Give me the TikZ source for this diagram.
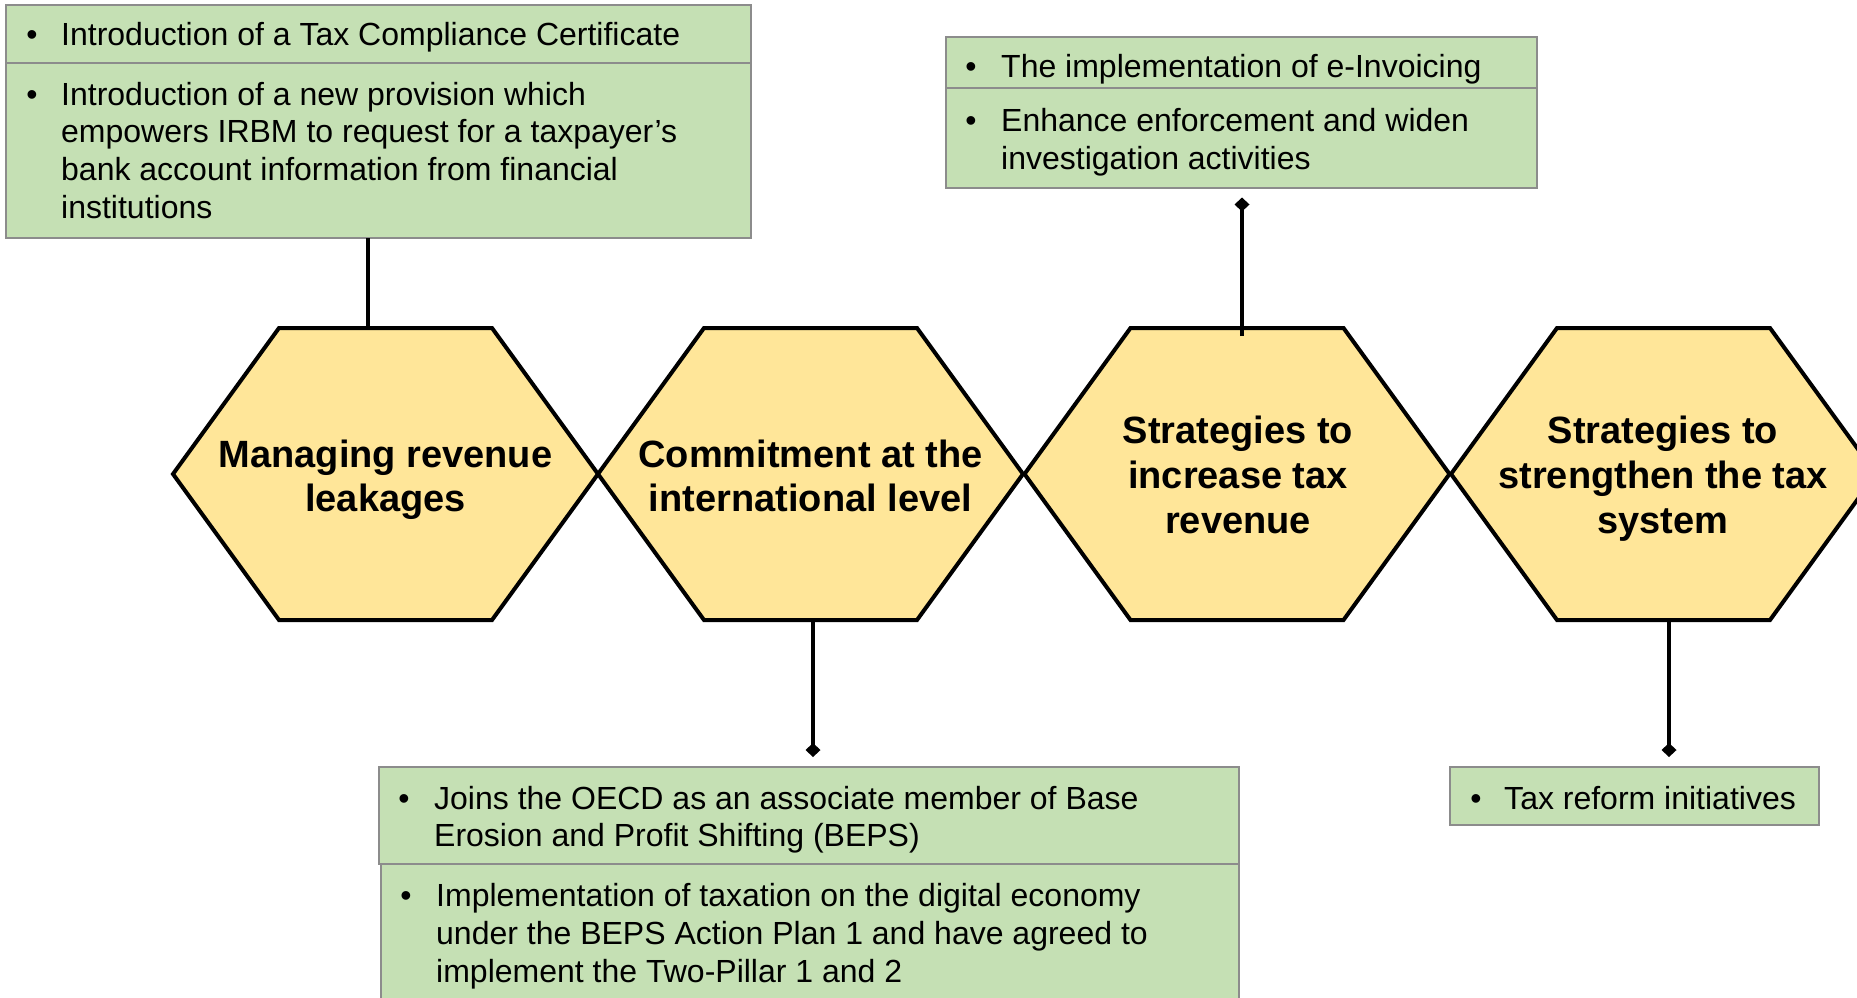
\documentclass[tikz,border=0pt]{standalone}
\usepackage{fontspec}
\setmainfont{Liberation Sans}
\usetikzlibrary{arrows.meta}
\definecolor{boxgreen}{HTML}{C5E0B4}
\definecolor{boxedge}{HTML}{8C8C8C}
\definecolor{hexfill}{HTML}{FFE699}
\begin{document}
\begin{tikzpicture}[x=1pt,y=-1pt,
  hexshape/.style={fill=hexfill,draw=black,line width=4pt,line join=miter},
  greenbox/.style={fill=boxgreen,draw=boxedge,line width=2pt,inner sep=0pt,outer sep=0pt,anchor=north west},
  bodytxt/.style={anchor=base west,inner sep=0pt,font=\fontsize{32}{37.5}\selectfont},
  bul/.style={anchor=base,inner sep=0pt,font=\fontsize{32}{37.5}\selectfont},
  hextxt/.style={anchor=base,inner sep=0pt,font=\fontsize{38}{44}\selectfont\bfseries},
  conn/.style={line width=4pt},
  connd/.style={line width=4pt,-{Diamond[length=14pt,width=15pt]}}
]
\useasboundingbox (0,0) rectangle (1857,997);
\clip (0,0) rectangle (1857,997);

% green boxes
\node[greenbox,minimum width=745,minimum height=58] (boxA1) at (6,5) {};
\node[greenbox,minimum width=745,minimum height=175] (boxA2) at (6,63) {};
\node[greenbox,minimum width=591,minimum height=51] (boxB1) at (946,37) {};
\node[greenbox,minimum width=591,minimum height=100] (boxB2) at (946,88) {};
\node[greenbox,minimum width=860,minimum height=97] (boxC1) at (379,767) {};
\node[greenbox,minimum width=858,minimum height=150] (boxC2) at (381,864) {};
\node[greenbox,minimum width=369,minimum height=58] (boxD) at (1450,767) {};

% hexagons
\foreach \cx in {385.5,810.5,1237,1663.5}
  \draw[hexshape] (\cx-212.5,474) -- (\cx-106.5,328) -- (\cx+106.5,328)
     -- (\cx+212.5,474) -- (\cx+106.5,620) -- (\cx-106.5,620) -- cycle;

% hexagon texts
\node[hextxt] (t1a) at (385.5,467) {Managing revenue};
\node[hextxt] (t1b) at (385.5,511) {leakages};
\node[hextxt] (t2a) at (810.5,467) {Commitment at the};
\node[hextxt] (t2b) at (810.5,511) {international level};
\node[hextxt] (t3a) at (1238,443) {Strategies to};
\node[hextxt] (t3b) at (1238,488) {increase tax};
\node[hextxt] (t3c) at (1238,533) {revenue};
\node[hextxt] (t4a) at (1663,443) {Strategies to};
\node[hextxt] (t4b) at (1663,488) {strengthen the tax};
\node[hextxt] (t4c) at (1663,533) {system};

% box A texts
\node[bul] (ba1) at (32,45) {•};
\node[bodytxt] (la1) at (61,45) {Introduction of a Tax Compliance Certificate};
\node[bul] (ba2) at (32,105) {•};
\node[bodytxt] (la2) at (61,105) {Introduction of a new provision which};
\node[bodytxt] (la3) at (61,142.5) {empowers IRBM to request for a taxpayer’s};
\node[bodytxt] (la4) at (61,180) {bank account information from financial};
\node[bodytxt] (la5) at (61,218) {institutions};

% box B texts
\node[bul] (bb1) at (971,77) {•};
\node[bodytxt] (lb1) at (1001,77) {The implementation of e-Invoicing};
\node[bul] (bb2) at (971,131) {•};
\node[bodytxt] (lb2) at (1001,131) {Enhance enforcement and widen};
\node[bodytxt] (lb3) at (1001,169) {investigation activities};

% box C texts
\node[bul] (bc1) at (404,809) {•};
\node[bodytxt] (lc1) at (434,809) {Joins the OECD as an associate member of Base};
\node[bodytxt] (lc2) at (434,846) {Erosion and Profit Shifting (BEPS)};
\node[bul] (bc2) at (406,906) {•};
\node[bodytxt] (lc3) at (436,906) {Implementation of taxation on the digital economy};
\node[bodytxt] (lc4) at (436,944) {under the BEPS Action Plan 1 and have agreed to};
\node[bodytxt] (lc5) at (436,982) {implement the Two-Pillar 1 and 2};

% box D text
\node[bul] (bd1) at (1476,809) {•};
\node[bodytxt] (ld1) at (1504,809) {Tax reform initiatives};

% connector points
\coordinate (h1top) at (368,328);
\coordinate (h2bot) at (813,620);
\coordinate (h3top) at (1242,336);
\coordinate (h4bot) at (1669,620);
\coordinate (dB) at (1242,197.5);
\coordinate (dC) at (813,757);
\coordinate (dD) at (1669,757);

% connectors
\draw[conn] (boxA2.south -| h1top) -- (h1top);
\draw[connd] (h3top) -- (dB);
\draw[connd] (h2bot) -- (dC);
\draw[connd] (h4bot) -- (dD);
\end{tikzpicture}
\end{document}
